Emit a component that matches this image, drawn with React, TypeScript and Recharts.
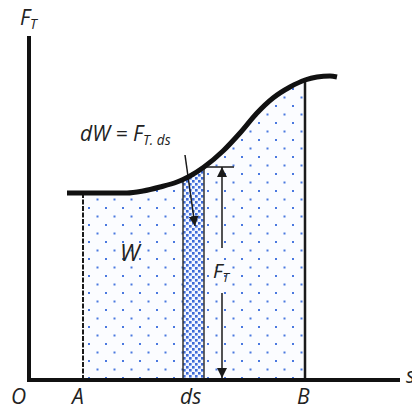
import {
  ComposedChart,
  XAxis,
  YAxis,
  Line,
  Area,
  ReferenceLine,
  ReferenceDot,
} from "recharts";

// displacement s and tangential force F_T
const sValues = [38, 54, 98, 114, 131, 148, 154, 161, 175, 194, 211, 228, 244, 261, 276, 288, 301, 308];
const forceValues = [187, 187, 187, 189, 193, 198, 200.5, 204, 213, 229, 247, 267, 282, 293, 300, 303, 304, 303];

const sA = 54;
const sB = 276;
const stripFrom = 154;
const stripTo = 175;
const arrowX = 193;
const stripTop = 213;

const labels = [
  { main: "F", sub: "T", x: -9, y: 355, size: 21 },
  { main: "dW = F", sub: "T. ds", x: 51, y: 239, size: 21 },
  { main: "W", sub: "", x: 91, y: 119, size: 23 },
  { main: "F", sub: "T", x: 184, y: 102, size: 20 },
  { main: "O", sub: "", x: -18, y: -24, size: 21 },
  { main: "A", sub: "", x: 43, y: -24, size: 21 },
  { main: "ds", sub: "", x: 151, y: -24, size: 21 },
  { main: "B", sub: "", x: 268, y: -24, size: 21 },
  { main: "s", sub: "", x: 377, y: -3, size: 21 },
];

const data = sValues.map((s, i) => ({
  s,
  F: forceValues[i],
  W: s >= sA && s <= sB ? forceValues[i] : null,
  strip: s >= stripFrom && s <= stripTo ? forceValues[i] : null,
}));

const fAt = (s: number) => forceValues[sValues.indexOf(s)];

const ink = "#1a1a1a";

export default function App() {
  return (
    <div style={{ position: "absolute", left: 0, top: 0 }}>
      <ComposedChart
        width={412}
        height={409}
        data={data}
        margin={{ top: 38, right: 11, bottom: 29, left: 29 }}
      >
        <defs>
          <pattern id="dots" width="17" height="17" patternUnits="userSpaceOnUse" x="0" y="0">
            <rect width="17" height="17" fill="#fbfcff" />
            <rect x="3" y="3" width="2" height="2" fill="#4a78e0" />
            <rect x="11.5" y="11.5" width="2" height="2" fill="#4a78e0" />
          </pattern>
          <pattern id="checks" width="6" height="6" patternUnits="userSpaceOnUse">
            <rect width="6" height="6" fill="#f4f7ff" />
            <rect x="0" y="0" width="2.6" height="2.6" fill="#3d6ad8" />
            <rect x="3" y="3" width="2.6" height="2.6" fill="#3d6ad8" />
          </pattern>
          <marker id="head" markerWidth="10" markerHeight="12" refX="10" refY="5" orient="auto" markerUnits="userSpaceOnUse">
            <path d="M0,0 L10,5 L0,10 Z" fill={ink} />
          </marker>
        </defs>
        <XAxis dataKey="s" type="number" domain={[0, 372]} hide />
        <YAxis type="number" domain={[0, 342]} hide />
        <Area
          dataKey="W"
          type="monotone"
          fill="url(#dots)"
          fillOpacity={1}
          stroke="none"
          isAnimationActive={false}
        />
        <Area
          dataKey="strip"
          type="monotone"
          fill="url(#checks)"
          fillOpacity={1}
          stroke="none"
          isAnimationActive={false}
        />
        <ReferenceLine
          segment={[{ x: sA, y: 0 }, { x: sA, y: fAt(sA) }]}
          stroke={ink}
          strokeWidth={2}
          strokeDasharray="5 1.5"
          ifOverflow="visible"
        />
        <ReferenceLine
          segment={[{ x: sB, y: 0 }, { x: sB, y: fAt(sB) }]}
          stroke={ink}
          strokeWidth={2.5}
          ifOverflow="visible"
        />
        <ReferenceLine
          segment={[{ x: stripFrom, y: 0 }, { x: stripFrom, y: fAt(stripFrom) }]}
          stroke="#333"
          strokeWidth={1.5}
          ifOverflow="visible"
        />
        <ReferenceLine
          segment={[{ x: stripTo, y: 0 }, { x: stripTo, y: fAt(stripTo) }]}
          stroke="#333"
          strokeWidth={1.5}
          ifOverflow="visible"
        />
        <ReferenceLine
          segment={[{ x: stripTo, y: stripTop }, { x: 205, y: stripTop }]}
          stroke={ink}
          strokeWidth={1.5}
          ifOverflow="visible"
        />
        <ReferenceLine
          segment={[{ x: arrowX, y: 132 }, { x: arrowX, y: stripTop }]}
          stroke={ink}
          strokeWidth={1.5}
          markerEnd="url(#head)"
          ifOverflow="visible"
        />
        <ReferenceLine
          segment={[{ x: arrowX, y: 87 }, { x: arrowX, y: 2 }]}
          stroke={ink}
          strokeWidth={1.5}
          markerEnd="url(#head)"
          ifOverflow="visible"
        />
        <ReferenceLine
          segment={[{ x: 156, y: 225 }, { x: 166, y: 154 }]}
          stroke={ink}
          strokeWidth={1.5}
          markerEnd="url(#head)"
          ifOverflow="visible"
        />
        <Line
          dataKey="F"
          type="monotone"
          stroke="#111"
          strokeWidth={5}
          dot={false}
          activeDot={false}
          isAnimationActive={false}
        />
        <ReferenceLine
          segment={[{ x: 0, y: -2 }, { x: 0, y: 344 }]}
          stroke="#111"
          strokeWidth={4}
          ifOverflow="visible"
        />
        <ReferenceLine
          segment={[{ x: -2, y: 0 }, { x: 371, y: 0 }]}
          stroke="#111"
          strokeWidth={4}
          ifOverflow="visible"
        />
        {labels.map((l, i) => (
          <ReferenceDot
            key={i}
            x={l.x}
            y={l.y}
            r={0}
            ifOverflow="visible"
            shape={(p: any) => (
              <text
                x={p.cx}
                y={p.cy}
                fill="#222"
                fontFamily="'Open Sans', sans-serif"
                fontStyle="italic"
                fontSize={l.size}
              >
                <tspan>{l.main}</tspan>
                {l.sub && (
                  <tspan fontSize={l.size * 0.65} dy={4}>
                    {l.sub}
                  </tspan>
                )}
              </text>
            )}
          />
        ))}
      </ComposedChart>
    </div>
  );
}
